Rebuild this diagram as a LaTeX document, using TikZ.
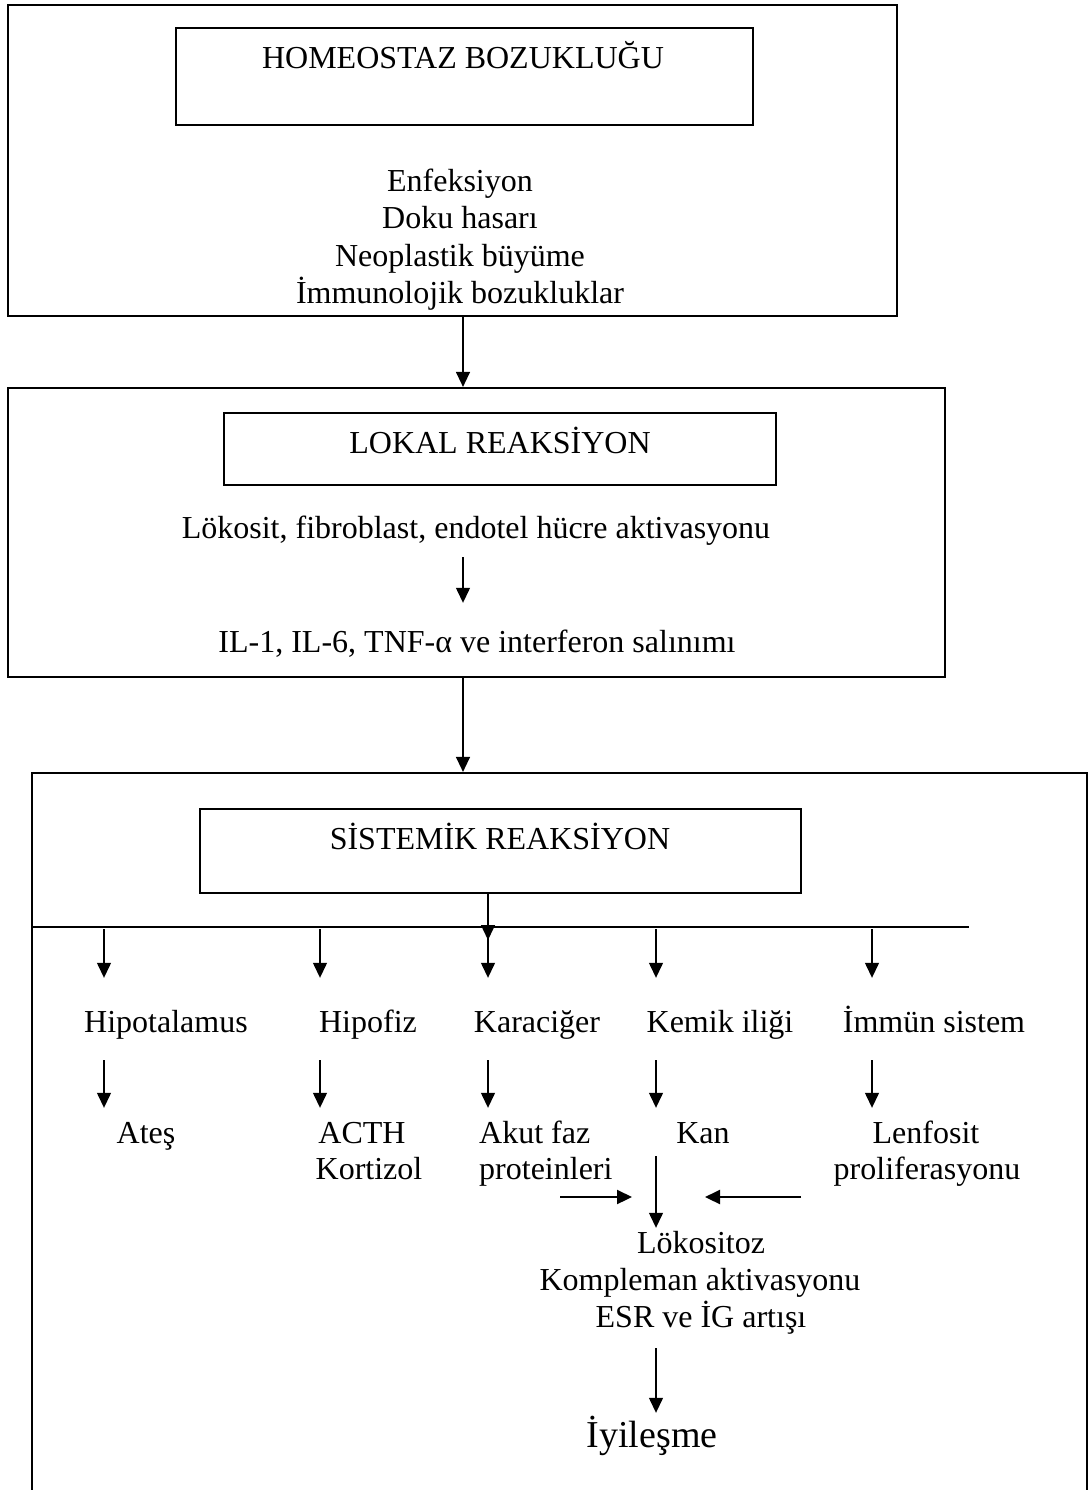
\documentclass[tikz,border=0pt]{standalone}
\usepackage{fontspec}
\setmainfont{Liberation Serif}
\usetikzlibrary{arrows.meta}
\newcommand{\fsz}{\fontsize{32}{37}\selectfont}
\newcommand{\fbig}{\fontsize{38}{44}\selectfont}
\begin{document}
\begin{tikzpicture}[x=1pt,y=-1pt,
  outerbox/.style={draw, line width=2.2pt, inner sep=0pt},
  innerbox/.style={draw, line width=2pt, inner sep=0pt},
  lbl/.style={font=\fsz, inner sep=0pt, text height=22pt, text depth=7pt, anchor=base},
  lblw/.style={lbl, anchor=base west},
  arr/.style={-{Triangle[length=15pt,width=14pt]}, line width=1.3pt},
  arrthick/.style={-{Triangle[length=15pt,width=14pt]}, line width=2.2pt}]
\useasboundingbox (0,0) rectangle (1089,1490);
\fill[white] (0,0) rectangle (1089,1490);

% column coordinates
\coordinate (cA) at (463,0);
\coordinate (c1) at (104,0);
\coordinate (c2) at (320,0);
\coordinate (c3) at (488,0);
\coordinate (c4) at (656,0);
\coordinate (c5) at (872,0);

% ---------- box 1 ----------
\node[outerbox, minimum width=889pt, minimum height=311pt] (b1) at (452.5,160.5) {};
\node[innerbox, minimum width=577pt, minimum height=97pt] (hb) at (464.5,76.5) {};
\node[lbl] (hbt) at (463,69) {HOMEOSTAZ BOZUKLUĞU};
\node[lbl] (e1) at (460,191) {Enfeksiyon};
\node[lbl] (e2) at (460,228.5) {Doku hasarı};
\node[lbl] (e3) at (460,266) {Neoplastik büyüme};
\node[lbl] (e4) at (460,303) {İmmunolojik bozukluklar};

% ---------- box 2 ----------
\node[outerbox, minimum width=937pt, minimum height=289pt] (b2) at (476.5,532.5) {};
\node[innerbox, minimum width=552pt, minimum height=72pt] (lb) at (500,449) {};
\node[lbl] (lbt) at (500,453) {LOKAL REAKSİYON};
\node[lbl] (lok) at (476,538) {Lökosit, fibroblast, endotel hücre aktivasyonu};
\node[lbl] (il) at (477,652) {IL-1, IL-6, TNF-α ve interferon salınımı};

% ---------- box 3 ----------
\node[outerbox, minimum width=1055pt, minimum height=827pt] (b3) at (559.5,1186.5) {};
\node[innerbox, minimum width=601pt, minimum height=84pt] (sb) at (500.5,851) {};
\node[lbl] (sbt) at (500,849) {SİSTEMİK REAKSİYON};
\coordinate (bar) at (32,927);
\coordinate (barR) at (969,927);
\draw[line width=2.2pt] (bar) -- (barR);

% row 1 labels
\node[lbl] (hip) at (166,1032) {Hipotalamus};
\node[lbl] (hfz) at (368,1032) {Hipofiz};
\node[lbl] (kc) at (537,1032) {Karaciğer};
\node[lbl] (ki) at (720,1032) {Kemik iliği};
\node[lbl] (im) at (934,1032) {İmmün sistem};

% row 2 labels
\node[lbl] (ates) at (146,1143) {Ateş};
\node[lbl] (acth) at (362,1143) {ACTH};
\node[lbl] (kort) at (369,1179) {Kortizol};
\node[lblw] (akut) at (479,1143) {Akut faz};
\node[lblw] (prot) at (479,1179) {proteinleri};
\node[lbl] (kan) at (703,1143) {Kan};
\node[lbl] (lenf) at (926,1143) {Lenfosit};
\node[lbl] (prol) at (927,1179) {proliferasyonu};

% result labels
\node[lbl] (lks) at (701,1253) {Lökositoz};
\node[lbl] (komp) at (700,1290) {Kompleman aktivasyonu};
\node[lbl] (esr) at (701,1327) {ESR ve İG artışı};
\node[lbl, font=\fbig, text height=27pt] (iyi) at (652,1447) {İyileşme};

% ---------- connectors ----------
\draw[arr] (b1.south -| cA) -- (b2.north -| cA);
\draw[arr, shorten <=12pt, shorten >=27pt] (lok.south -| cA) -- (il.north -| cA);
\draw[arr] (b2.south -| cA) -- (b3.north -| cA);
\draw[arr, shorten >=-13pt] (sb.south -| c3) -- (bar -| c3);

\draw[arr, shorten <=2pt, shorten >=32pt] (bar -| c1) -- (hip.north -| c1);
\draw[arr, shorten <=2pt, shorten >=32pt] (bar -| c2) -- (hfz.north -| c2);
\draw[arr, shorten <=2pt, shorten >=32pt] (bar -| c3) -- (kc.north -| c3);
\draw[arr, shorten <=2pt, shorten >=32pt] (bar -| c4) -- (ki.north -| c4);
\draw[arr, shorten <=2pt, shorten >=32pt] (bar -| c5) -- (im.north -| c5);

\draw[arr, shorten <=21pt, shorten >=13pt] (hip.south -| c1) -- (ates.north -| c1);
\draw[arr, shorten <=21pt, shorten >=13pt] (hfz.south -| c2) -- (acth.north -| c2);
\draw[arr, shorten <=21pt, shorten >=13pt] (kc.south -| c3) -- (akut.north -| c3);
\draw[arr, shorten <=21pt, shorten >=13pt] (ki.south -| c4) -- (kan.north -| c4);
\draw[arr, shorten <=21pt, shorten >=13pt] (im.south -| c5) -- (lenf.north -| c5);

\draw[arr, shorten <=6pt, shorten >=3pt] (kan.south -| c4) -- (lks.north -| c4);
\coordinate (hL) at (560,1197);
\coordinate (hR) at (801,1197);
\coordinate (kx) at (656,1197);
\draw[arrthick, shorten >=24pt] (hL) -- (kx);
\draw[arrthick, shorten >=49pt] (hR) -- (kx);

\draw[arr, shorten <=14pt, shorten >=7pt] (esr.south -| c4) -- (iyi.north -| c4);
\end{tikzpicture}
\end{document}
